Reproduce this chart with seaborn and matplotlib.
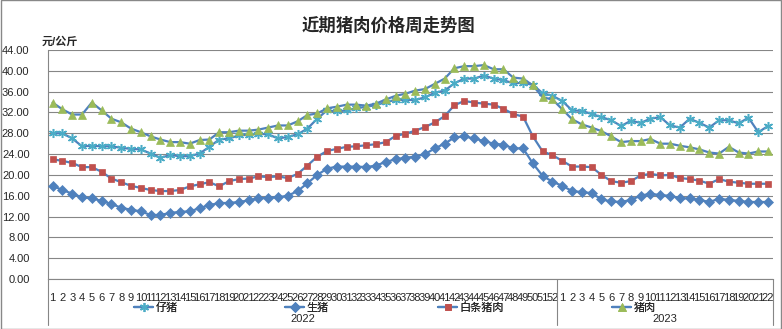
import numpy as np
import pandas as pd
import matplotlib
matplotlib.use('Agg')
import matplotlib.pyplot as plt
import matplotlib.transforms as mtransforms
from matplotlib.patches import Rectangle
import seaborn as sns

# ---------------- data ----------------
weeks_2022 = [str(i) for i in range(1, 53)]
weeks_2023 = [str(i) for i in range(1, 23)]
tick_labels = weeks_2022 + weeks_2023
years = ['2022', '2023']
series_names = ['仔猪', '生猪', '白条猪肉', '猪肉']

piglet = [28.0, 28.0, 27.0, 25.5, 25.6, 25.5, 25.5, 25.2, 25.0, 24.9, 24.1, 23.3, 23.8, 23.6, 23.6, 24.1, 25.4, 26.8, 27.0, 27.6, 27.7, 27.9,
          27.8, 27.0, 27.3, 27.8, 28.9, 30.8, 32.4, 32.2, 32.4, 32.8, 33.1, 33.4, 34.0, 34.4, 34.4, 34.4, 34.9, 35.8, 36.2, 37.6, 38.5, 38.5, 39.1, 38.5,
          38.2, 37.6, 37.7, 37.3, 35.7, 35.2,
          34.2, 32.4, 32.3, 31.7, 31.1, 30.5, 29.4, 30.4, 30.0, 30.8, 31.1, 29.5, 29.1, 30.8, 30.0, 29.1, 30.5, 30.5, 29.9, 31.0, 28.2, 29.4]

hog = [17.9, 17.1, 16.4, 15.7, 15.5, 15.0, 14.4, 13.7, 13.3, 13.0, 12.3, 12.3, 12.7, 12.9, 13.0, 13.6, 14.2, 14.6, 14.6, 14.8, 15.1, 15.5,
       15.6, 15.7, 16.0, 16.9, 18.4, 20.0, 21.2, 21.6, 21.6, 21.6, 21.5, 21.8, 22.5, 23.0, 23.3, 23.5, 24.0, 25.1, 26.0, 27.2, 27.4, 27.0, 26.5, 26.0,
       25.8, 25.1, 25.1, 22.2, 19.8, 18.7,
       17.9, 16.9, 16.7, 16.5, 15.3, 14.9, 14.8, 15.2, 16.0, 16.4, 16.1, 16.0, 15.5, 15.5, 15.2, 14.8, 15.4, 15.2, 15.0, 14.8, 14.8, 14.8]

carcass = [23.0, 22.7, 22.3, 21.5, 21.5, 20.6, 19.3, 18.6, 17.9, 17.5, 17.1, 16.9, 16.9, 17.1, 17.8, 18.2, 18.6, 17.8, 18.8, 19.2, 19.3, 19.7,
           19.6, 19.7, 19.4, 20.2, 21.8, 23.5, 24.6, 25.0, 25.4, 25.5, 25.7, 25.9, 26.3, 27.5, 27.9, 28.5, 29.2, 30.1, 31.3, 33.4, 34.2, 33.9, 33.7, 33.5,
           32.7, 31.7, 31.2, 27.4, 24.5, 23.8,
           22.7, 21.6, 21.6, 21.5, 20.0, 18.8, 18.5, 18.8, 19.9, 20.2, 19.9, 20.0, 19.4, 19.2, 18.9, 18.3, 19.2, 18.7, 18.5, 18.3, 18.3, 18.3]

pork = [33.9, 32.6, 31.6, 31.6, 33.9, 32.4, 30.8, 30.1, 28.9, 28.2, 27.4, 26.8, 26.3, 26.3, 26.0, 26.7, 26.8, 28.2, 28.2, 28.5, 28.5, 28.7,
        29.1, 29.5, 29.5, 30.3, 31.5, 31.8, 32.8, 33.1, 33.5, 33.5, 33.3, 33.7, 34.5, 35.2, 35.6, 36.2, 36.5, 37.5, 38.5, 40.5, 40.9, 40.9, 41.1, 40.3,
        40.3, 38.7, 38.5, 37.2, 34.9, 34.5,
        32.6, 30.7, 29.7, 29.1, 28.4, 27.4, 26.3, 26.5, 26.5, 26.9, 26.0, 26.0, 25.6, 25.3, 24.9, 24.3, 24.1, 25.4, 24.3, 24.1, 24.5, 24.5]

series_values = [piglet, hog, carcass, pork]

# ---------------- style ----------------
sns.set_style('white')
plt.rcParams['font.family'] = ['Liberation Sans', 'Noto Sans CJK SC']

W, H = 782, 329
fig = plt.figure(figsize=(W / 100, H / 100), dpi=100)
x0, x1, ytop, ybot = 47.7, 773.0, 50.0, 279.0
ax = fig.add_axes([x0 / W, 1 - ybot / H, (x1 - x0) / W, (ybot - ytop) / H])

line_color = '#4F81BD'
grid_color = '#868686'
marker_styles = [
    dict(marker=(6, 2, 0), markersize=6.5, markerfacecolor='#4BACC6', markeredgecolor='#4BACC6', markeredgewidth=1.1),
    dict(marker='D', markersize=4.6, markerfacecolor='#4F81BD', markeredgecolor='#4F81BD', markeredgewidth=0.5),
    dict(marker='s', markersize=5.0, markerfacecolor='#C0504D', markeredgecolor='#C0504D', markeredgewidth=0.5),
    dict(marker='^', markersize=6.2, markerfacecolor='#9BBB59', markeredgecolor='#9BBB59', markeredgewidth=0.5),
]

xs = np.arange(len(tick_labels))
frames = []
for name, vals in zip(series_names, series_values):
    frames.append(pd.DataFrame({'idx': xs, 'value': vals, 'series': name}))
df = pd.concat(frames, ignore_index=True)

for i, name in enumerate(series_names):
    sub = df[df['series'] == name]
    sns.lineplot(data=sub, x='idx', y='value', ax=ax, color=line_color, lw=1.6,
                 legend=False, label=name, zorder=3 + i, **marker_styles[i])

handles = list(ax.lines[:4])

# axes
ax.set_xlim(-0.5, len(tick_labels) - 0.5)
ax.set_ylim(0, 44)
yt = np.arange(0, 45, 4)
ax.set_yticks(yt)
ax.set_yticklabels([f'{v:.2f}' for v in yt], fontsize=8)
ax.set_xticks(xs)
ax.set_xticklabels(tick_labels, fontsize=8)
ax.set_xticks(np.arange(-0.5, len(tick_labels), 1), minor=True)
ax.tick_params(axis='x', which='major', length=0, pad=10)
ax.tick_params(axis='x', which='minor', length=4, color=grid_color, width=0.8, direction='out')
ax.tick_params(axis='y', which='major', length=4, color=grid_color, width=0.8, pad=9)
ax.set_xlabel('')
ax.set_ylabel('')
ax.yaxis.grid(True, color=grid_color, lw=0.8)
ax.xaxis.grid(False)
ax.set_axisbelow(True)
for s in ['top', 'right']:
    ax.spines[s].set_visible(False)
for s in ['left', 'bottom']:
    ax.spines[s].set_color(grid_color)
    ax.spines[s].set_linewidth(0.8)

# year separators and labels
trans = mtransforms.blended_transform_factory(ax.transData, ax.transAxes)
yb = (ybot - 325) / (ybot - ytop)
for xv in [-0.5, len(weeks_2022) - 0.5, len(tick_labels) - 0.5]:
    ax.plot([xv, xv], [0, yb], transform=trans, color=grid_color, lw=0.8, clip_on=False)
yl = (ybot - 319) / (ybot - ytop)
ax.text((len(weeks_2022) - 1) / 2, yl, years[0], transform=trans, ha='center', va='center', fontsize=8)
ax.text(len(weeks_2022) + (len(weeks_2023) - 1) / 2, yl, years[1], transform=trans, ha='center', va='center', fontsize=8)

# legend entries
leg_x = [134, 285, 438, 612]
for h, name, lx in zip(handles, series_names, leg_x):
    lg = fig.legend(handles=[h], labels=[name], loc='center left',
                    bbox_to_anchor=(lx / W, 1 - 308 / H), frameon=False, fontsize=8,
                    handlelength=1.75, handletextpad=0.2, borderpad=0, borderaxespad=0)
    fig.add_artist(lg)

# titles
fig.text(388 / W, 1 - 25 / H, '近期猪肉价格周走势图', ha='center', va='center', fontsize=12.5, fontweight='bold')
fig.text(41.7 / W, 1 - 42 / H, '元/公斤', ha='left', va='center', fontsize=8, fontweight='bold')

fig.patches.append(Rectangle((0.0008, 0.0015), 0.9984, 0.997, transform=fig.transFigure,
                             fill=False, edgecolor='#888888', lw=1))

fig.savefig('out.png', dpi=100)
